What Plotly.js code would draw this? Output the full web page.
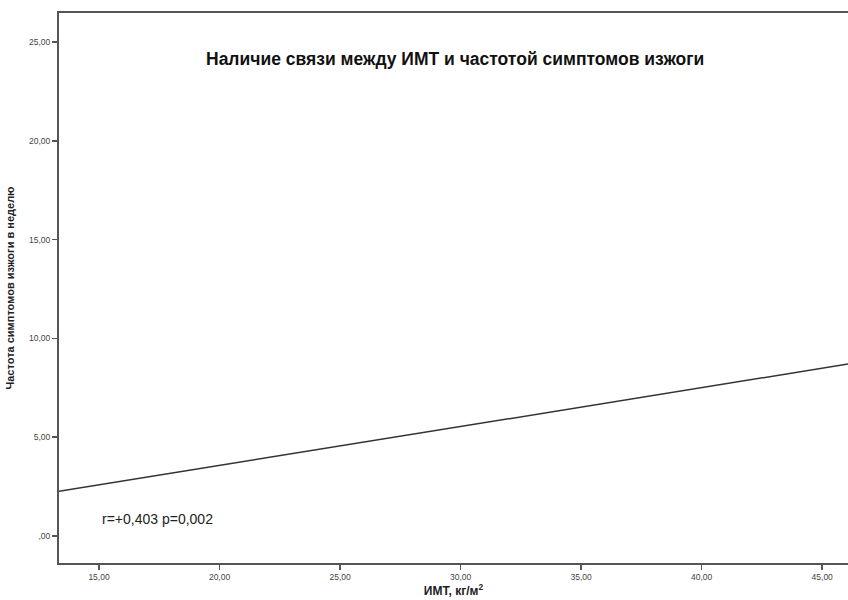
<!DOCTYPE html>
<html>
<head>
<meta charset="utf-8">
<script src="https://cdn.plot.ly/plotly-3.0.1.min.js"></script>
<style>html,body{margin:0;padding:0;background:#fff;}#chart{width:848px;height:600px;}</style>
</head>
<body>
<div id="chart"></div>
<script>
// Fitted regression line (ИМТ vs частота симптомов изжоги)
const lineX = [13.34, 46.07];
const lineY = [2.26, 8.70];

const xTickVals = [15, 20, 25, 30, 35, 40, 45];
const xTickText = ["15,00", "20,00", "25,00", "30,00", "35,00", "40,00", "45,00"];
const yTickVals = [0, 5, 10, 15, 20, 25];
const yTickText = [",00", "5,00", "10,00", "15,00", "20,00", "25,00"];

const chartTitle = "Наличие связи между ИМТ и частотой симптомов изжоги";
const xTitle = "ИМТ, кг/м<sup>2</sup>";
const yTitle = "Частота симптомов изжоги в неделю";
const statText = "r=+0,403 p=0,002";

const font = "Liberation Sans, Arial, sans-serif";

const trace = {
  x: lineX, y: lineY, mode: "lines", type: "scatter",
  line: {color: "#333333", width: 1.5},
  hoverinfo: "skip", showlegend: false
};

const layout = {
  width: 848, height: 600,
  margin: {l: 59, r: 0, t: 13, b: 37},
  paper_bgcolor: "#ffffff", plot_bgcolor: "#ffffff",
  font: {family: font, color: "#333333"},
  xaxis: {
    range: [13.34, 46.07],
    tickvals: xTickVals, ticktext: xTickText,
    ticks: "outside", ticklen: 5, tickwidth: 1.5, tickcolor: "#555555",
    tickfont: {size: 8.5, color: "#444444", family: font},
    showgrid: false, zeroline: false,
    showline: true, linecolor: "#555555", linewidth: 2, mirror: true,
    title: {text: xTitle, font: {size: 12, color: "#222222", family: font, weight: "bold"}, standoff: 4}
  },
  yaxis: {
    range: [-1.37, 26.47],
    tickvals: yTickVals, ticktext: yTickText,
    ticks: "outside", ticklen: 5, tickwidth: 1.5, tickcolor: "#555555",
    tickfont: {size: 8.5, color: "#444444", family: font},
    showgrid: false, zeroline: false,
    showline: true, linecolor: "#555555", linewidth: 2,
    title: {text: yTitle, font: {size: 11, color: "#222222", family: font, weight: "bold"}, standoff: 12}
  },
  annotations: [
    {text: "<b>" + chartTitle + "</b>", xref: "paper", yref: "paper", x: 0.502, y: 0.916,
     xanchor: "center", yanchor: "middle", showarrow: false,
     font: {size: 17.5, color: "#111111", family: font}},
    {text: statText, xref: "x", yref: "y", x: 15.05, y: 0.86,
     xanchor: "left", yanchor: "middle", showarrow: false,
     font: {size: 14, color: "#222222", family: font}}
  ]
};

Plotly.newPlot("chart", [trace], layout, {displayModeBar: false, staticPlot: true});
</script>
</body>
</html>
